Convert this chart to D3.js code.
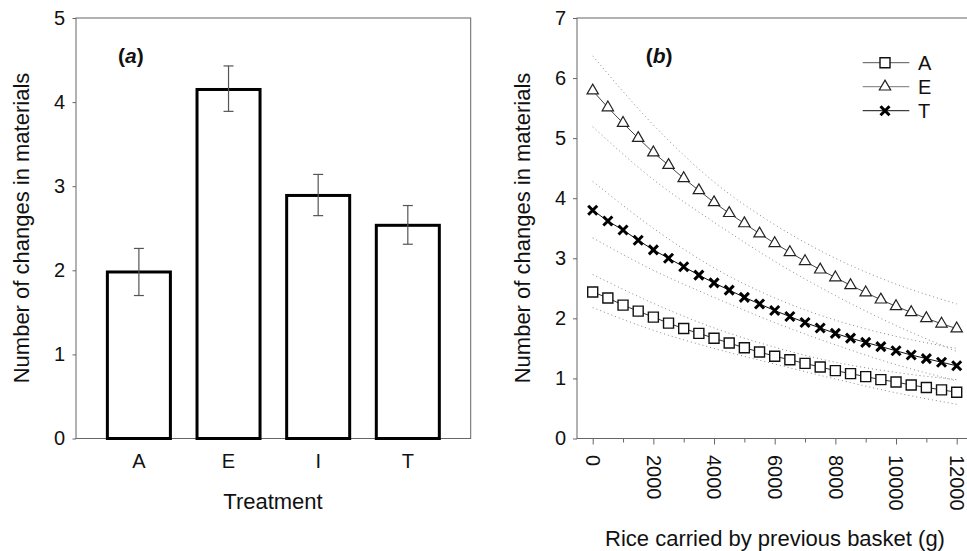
<!DOCTYPE html>
<html lang="en">
  <head>
    <meta charset="UTF-8" />
    <title>Changes in materials</title>
    <script src="https://d3js.org/d3.v7.min.js"></script>
    <style>
      body { margin: 0; background: #fff; }
      svg { display: block; font-family: "Liberation Sans", Arial, sans-serif; }
      .axis path, .axis line { stroke: #666; }
      .axis text { font-size: 20px; fill: #111; }
    </style>
  </head>
  <body>
    <div id="chart"></div>

    <script>
      // panel (a)
      const treatments = ["A", "E", "I", "T"];
      const meanChanges = [1.98, 4.15, 2.89, 2.535];
      const errLow = [1.7, 3.89, 2.65, 2.31];
      const errHigh = [2.26, 4.43, 3.14, 2.77];

      // panel (b)
      const riceCarried = [0, 500, 1000, 1500, 2000, 2500, 3000, 3500, 4000, 4500, 5000, 5500,
        6000, 6500, 7000, 7500, 8000, 8500, 9000, 9500, 10000, 10500, 11000, 11500, 12000];
      const changesA = [2.44, 2.34, 2.22, 2.12, 2.02, 1.92, 1.83, 1.75, 1.67, 1.59, 1.51, 1.44,
        1.37, 1.31, 1.25, 1.19, 1.13, 1.08, 1.03, 0.98, 0.94, 0.89, 0.85, 0.81, 0.77];
      const changesE = [5.79, 5.51, 5.25, 5.0, 4.76, 4.55, 4.33, 4.13, 3.93, 3.75, 3.58, 3.41,
        3.25, 3.1, 2.95, 2.81, 2.68, 2.55, 2.43, 2.31, 2.2, 2.1, 2.0, 1.91, 1.83];
      const changesT = [3.8, 3.62, 3.47, 3.3, 3.14, 3.0, 2.86, 2.72, 2.59, 2.47, 2.35, 2.24,
        2.13, 2.03, 1.93, 1.84, 1.75, 1.67, 1.6, 1.53, 1.46, 1.39, 1.33, 1.27, 1.21];

      // dotted confidence bands
      const ciX = [0, 2000, 4000, 6000, 8000, 10000, 12000];
      const upperA = [2.73, 2.25, 1.84, 1.52, 1.27, 1.1, 0.98];
      const lowerA = [2.18, 1.8, 1.5, 1.24, 0.99, 0.76, 0.57];
      const upperE = [6.37, 5.22, 4.27, 3.56, 3.0, 2.57, 2.24];
      const lowerE = [5.19, 4.31, 3.6, 2.95, 2.38, 1.88, 1.45];
      const upperT = [4.28, 3.5, 2.84, 2.34, 1.97, 1.7, 1.5];
      const lowerT = [3.34, 2.8, 2.35, 1.93, 1.56, 1.23, 0.96];

      const width = 967;
      const height = 551;
      const plotTop = 18;
      const plotBottom = 438.5;

      const svg = d3
        .select("#chart")
        .append("svg")
        .attr("width", width)
        .attr("height", height);

      // ---------- panel (a) ----------
      const ax0 = 76, ax1 = 470.7;
      const xa = d3.scaleBand().domain(treatments).range([ax0, ax1])
        .paddingInner(0.297).paddingOuter(0.35);
      const ya = d3.scaleLinear().domain([0, 5]).range([plotBottom, plotTop]);

      const ga = svg.append("g");

      ga.append("rect")
        .attr("x", ax0).attr("y", plotTop)
        .attr("width", ax1 - ax0).attr("height", plotBottom - plotTop)
        .attr("fill", "none").attr("stroke", "#666");

      ga.append("g")
        .attr("class", "axis")
        .attr("transform", `translate(${ax0},0)`)
        .call(d3.axisLeft(ya).ticks(5).tickSize(3.5).tickSizeOuter(0).tickPadding(7.5))
        .call((g) => g.select(".domain").remove());

      ga.append("g")
        .attr("class", "axis")
        .attr("transform", `translate(0,${plotBottom})`)
        .call(d3.axisBottom(xa).tickSize(0).tickPadding(15))
        .call((g) => g.select(".domain").remove());

      ga.selectAll("rect.bar")
        .data(treatments)
        .enter()
        .append("rect")
        .attr("class", "bar")
        .attr("x", (d) => xa(d))
        .attr("y", (d, i) => ya(meanChanges[i]))
        .attr("width", xa.bandwidth())
        .attr("height", (d, i) => plotBottom - ya(meanChanges[i]))
        .attr("fill", "#fff")
        .attr("stroke", "#000")
        .attr("stroke-width", 3);

      // error bars
      const eb = ga.selectAll("g.err")
        .data(treatments)
        .enter()
        .append("g")
        .attr("class", "err")
        .attr("stroke", "#555")
        .attr("stroke-width", 1.2);
      const cx = (d) => xa(d) + xa.bandwidth() / 2;
      eb.append("line")
        .attr("x1", cx).attr("x2", cx)
        .attr("y1", (d, i) => ya(errLow[i])).attr("y2", (d, i) => ya(errHigh[i]));
      eb.append("line")
        .attr("x1", (d) => cx(d) - 5).attr("x2", (d) => cx(d) + 5)
        .attr("y1", (d, i) => ya(errHigh[i])).attr("y2", (d, i) => ya(errHigh[i]));
      eb.append("line")
        .attr("x1", (d) => cx(d) - 5).attr("x2", (d) => cx(d) + 5)
        .attr("y1", (d, i) => ya(errLow[i])).attr("y2", (d, i) => ya(errLow[i]));

      const panelLabel = (x, letter) => {
        const t = svg.append("text")
          .attr("x", x).attr("y", 63)
          .attr("font-size", 21).attr("font-weight", "bold").attr("fill", "#111");
        t.append("tspan").text("(");
        t.append("tspan").attr("font-style", "italic").text(letter);
        t.append("tspan").text(")");
      };
      panelLabel(118, "a");

      svg.append("text")
        .attr("transform", "translate(29,228) rotate(-90)")
        .attr("text-anchor", "middle")
        .attr("font-size", 22).attr("fill", "#111")
        .text("Number of changes in materials");

      svg.append("text")
        .attr("x", 273).attr("y", 509)
        .attr("text-anchor", "middle")
        .attr("font-size", 22).attr("fill", "#111")
        .text("Treatment");

      // ---------- panel (b) ----------
      const bx0 = 577;
      const xb = d3.scaleLinear().domain([0, 12000]).range([592.7, 956.7]);
      const yb = d3.scaleLinear().domain([0, 7]).range([plotBottom, plotTop]);

      const gb = svg.append("g");

      gb.append("rect")
        .attr("x", bx0).attr("y", plotTop)
        .attr("width", 420).attr("height", plotBottom - plotTop)
        .attr("fill", "none").attr("stroke", "#666");

      gb.append("g")
        .attr("class", "axis")
        .attr("transform", `translate(${bx0},0)`)
        .call(d3.axisLeft(yb).ticks(7).tickSize(4).tickSizeOuter(0).tickPadding(7))
        .call((g) => g.select(".domain").remove());

      const xTicks = [0, 1000, 2000, 3000, 4000, 5000, 6000, 7000, 8000, 9000, 10000, 11000, 12000];
      const xAxis = gb.append("g")
        .attr("class", "axis")
        .attr("transform", `translate(0,${plotBottom})`)
        .call(d3.axisBottom(xb).tickValues(xTicks).tickFormat(d3.format("d"))
          .tickSize(6).tickSizeOuter(0))
        .call((g) => g.select(".domain").remove());
      xAxis.selectAll(".tick")
        .filter((d) => d % 2000 !== 0)
        .call((t) => t.select("line").attr("y2", 4))
        .call((t) => t.select("text").remove());
      xAxis.selectAll(".tick text")
        .attr("text-anchor", "start")
        .attr("x", 0).attr("y", 0)
        .attr("dy", "0.36em")
        .attr("transform", "translate(0,16.5) rotate(90)");

      // dotted bands
      const band = d3.line()
        .x((d, i) => xb(ciX[i]))
        .y((d) => yb(d))
        .curve(d3.curveMonotoneX);
      [upperA, lowerA, upperE, lowerE, upperT, lowerT].forEach((arr) => {
        gb.append("path")
          .attr("d", band(arr))
          .attr("fill", "none")
          .attr("stroke", "#888")
          .attr("stroke-width", 1)
          .attr("stroke-dasharray", "1,3");
      });

      const series = [
        { key: "A", values: changesA, line: "#333" },
        { key: "E", values: changesE, line: "#444" },
        { key: "T", values: changesT, line: "#111" },
      ];

      const lineB = d3.line()
        .x((d, i) => xb(riceCarried[i]))
        .y((d) => yb(d));

      const square = d3.symbol(d3.symbolSquare, 100)();
      const triangle = d3.symbol(d3.symbolTriangle, 56)();
      const cross = "M-4.5,-4.5L4.5,4.5M-4.5,4.5L4.5,-4.5";

      const drawMarker = (g, key) => {
        if (key === "A") {
          return g.append("path").attr("d", square)
            .attr("fill", "#fff").attr("stroke", "#111").attr("stroke-width", 1.4);
        }
        if (key === "E") {
          return g.append("path").attr("d", triangle)
            .attr("fill", "#fff").attr("stroke", "#222").attr("stroke-width", 1.2);
        }
        return g.append("path").attr("d", cross)
          .attr("fill", "none").attr("stroke", "#000").attr("stroke-width", 3);
      };

      series.forEach((s) => {
        gb.append("path")
          .attr("d", lineB(s.values))
          .attr("fill", "none")
          .attr("stroke", s.line)
          .attr("stroke-width", 1);
        s.values.forEach((v, i) => {
          const m = gb.append("g")
            .attr("transform", `translate(${xb(riceCarried[i])},${yb(v)})`);
          drawMarker(m, s.key);
        });
      });

      // legend
      const legend = svg.append("g");
      series.forEach((s, i) => {
        const y = 62.7 + i * 24;
        legend.append("line")
          .attr("x1", 862.7).attr("x2", 909.3)
          .attr("y1", y).attr("y2", y)
          .attr("stroke", s.key === "E" ? "#777" : s.key === "A" ? "#555" : "#111")
          .attr("stroke-width", 1);
        const m = legend.append("g").attr("transform", `translate(885,${y})`);
        drawMarker(m, s.key);
        legend.append("text")
          .attr("x", 918).attr("y", y + 7.2)
          .attr("font-size", 20).attr("fill", "#111")
          .text(s.key);
      });

      panelLabel(645.7, "b");

      svg.append("text")
        .attr("transform", "translate(529.5,228) rotate(-90)")
        .attr("text-anchor", "middle")
        .attr("font-size", 22).attr("fill", "#111")
        .text("Number of changes in materials");

      svg.append("text")
        .attr("x", 775).attr("y", 546)
        .attr("text-anchor", "middle")
        .attr("font-size", 22).attr("fill", "#111")
        .text("Rice carried by previous basket (g)");
    </script>
  </body>
</html>
